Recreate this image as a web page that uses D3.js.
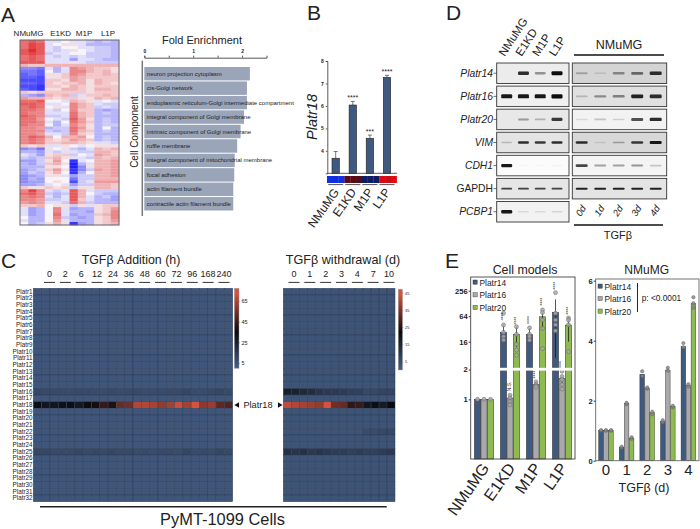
<!DOCTYPE html>
<html>
<head>
<meta charset="utf-8">
<script src="https://cdn.jsdelivr.net/npm/d3@7"></script>
<style>
  html, body { margin: 0; padding: 0; background: #fff; }
  text { font-family: 'Liberation Sans', Arial, sans-serif; fill: #222; }
</style>
</head>
<body>
<script>
// ---- panel A data (z-score x10, one line per row of the heatmap)
var heatGroups = ['NMuMG', 'E1KD', 'M1P', 'L1P'];
var heatRows = [
  [6,7,6,-1,-1,0,-1,-1,-2,-3,-2,-3],[6,8,7,-1,0,1,1,-1,-3,-3,-3,-3],[6,8,7,-1,-2,0,0,-1,-1,-2,-2,-3],
  [7,9,7,-1,-2,-1,1,0,-1,-2,-2,-3],[7,8,7,-2,-1,-1,0,0,-2,-2,-2,-3],[6,7,6,-1,-2,-1,-2,-1,-2,-2,-2,-3],
  [6,7,6,-1,-1,-1,-4,-1,-1,-2,-3,-3],[7,7,7,-1,-1,-1,1,-1,-2,-2,-2,-2],[3,2,2,3,3,3,3,3,3,3,3,3],
  [-5,-5,-6,-1,-3,-1,5,4,3,2,2,1],[-6,-6,-7,0,-3,-1,5,5,3,2,3,1],[-7,-6,-7,1,1,2,5,4,2,2,3,2],
  [-7,-7,-8,1,1,2,4,3,2,2,2,2],[-8,-8,-8,2,2,1,4,3,1,3,2,2],[-7,-7,-8,2,1,2,2,3,1,3,2,1],
  [-8,-8,-9,2,2,1,3,2,1,2,2,2],[-7,-8,-9,1,1,3,3,2,1,3,3,2],[2,1,2,2,2,2,2,2,1,2,2,2],
  [-3,-4,-5,3,2,3,-2,-1,2,2,3,2],[4,3,3,2,1,2,2,1,1,3,2,3],[6,6,7,0,0,-1,3,2,1,-1,0,-1],
  [7,7,6,-1,-1,0,5,3,2,-1,-2,-2],[6,7,6,0,1,-1,5,3,2,-2,-1,-2],[6,6,5,-1,-2,0,5,2,2,-3,-4,-3],
  [6,5,5,-1,-1,-1,6,3,2,-3,-2,-3],[7,6,5,-2,-2,-1,6,3,2,-3,-3,-3],[6,6,4,0,-1,-2,7,4,1,-3,-2,-3],
  [6,6,5,-1,-3,0,6,4,2,-3,-2,-3],[6,5,5,0,-3,-1,5,3,1,-3,-2,-2],[5,5,4,-3,-2,-2,6,4,1,-3,0,-3],
  [5,5,5,-2,-3,-2,6,3,2,-3,-2,-3],[5,5,4,-1,-1,-2,5,2,1,-3,-3,-3],[5,7,6,3,0,3,3,4,0,-3,-2,-3],
  [5,6,5,2,1,2,4,3,2,-3,-2,-3],[5,6,5,2,2,3,3,2,1,-1,-1,-2],[2,1,2,-1,-1,1,0,-1,0,1,1,1],
  [-5,-4,-6,1,0,1,-2,-3,-1,3,2,3],[-3,-3,-4,-1,-2,-1,-1,-2,-2,3,3,2],[-1,-2,-4,1,2,2,-2,0,-1,4,3,2],
  [-2,-3,-2,2,3,1,-1,-1,-2,3,2,3],[-4,-4,-2,1,4,0,-9,-1,0,3,3,4],[-3,-4,-2,2,3,1,-10,-3,-1,3,3,4],
  [-3,-3,-3,1,1,0,-10,-5,1,3,3,4],[-4,-3,-2,2,4,1,-9,-5,-2,4,3,4],[-4,-2,-3,1,3,0,-9,-3,0,3,3,4],
  [-5,-4,-3,1,1,-1,-4,-2,-2,3,3,4],[-5,-3,-4,0,0,0,-6,-2,-2,3,3,3],[-5,-4,-4,0,1,0,-8,-2,-1,4,4,4],
  [-4,-4,-3,-1,0,-1,-4,-2,-2,3,3,2],[2,1,1,2,1,2,-2,1,1,3,3,2],[5,8,5,-1,-2,-1,7,3,-1,-2,-2,-2],
  [6,7,5,-2,-3,-2,7,3,0,-2,-3,-3],[5,6,5,-1,-3,-1,7,3,-1,-3,-2,-4],[5,5,4,-2,-2,-1,7,2,-1,-3,-3,-4],
  [4,5,4,-1,-1,-2,6,3,-2,-3,-3,-3],[2,2,3,0,1,1,-2,1,-1,1,2,2],[-1,-4,-3,0,5,-1,-4,-3,-3,1,2,4],
  [-1,-4,-3,0,5,-1,-3,-3,-4,1,2,5],[-1,-4,-3,0,6,-1,-4,-3,-3,2,3,5],[0,-3,-3,0,5,-2,-3,-4,-3,1,2,5],
  [-1,-3,-3,0,4,-1,-3,-3,-3,1,2,4],[0,-3,-2,1,3,1,-9,-4,-3,1,2,3]
];

var enrichTerms = ['neuron projection cytoplasm', 'cis-Golgi network', 'endoplasmic reticulum-Golgi intermediate compartment',
  'integral component of Golgi membrane', 'intrinsic component of Golgi membrane', 'ruffle membrane',
  'integral component of mitochondrial membrane', 'focal adhesion', 'actin filament bundle', 'contractile actin filament bundle'];
var enrichValues = [2.16, 2.1, 2.1, 2.04, 1.97, 1.9, 1.85, 1.84, 1.82, 1.82];

// ---- panel B data
var cellLines = ['NMuMG', 'E1KD', 'M1P', 'L1P'];
var platr18Values = [3.67, 6.04, 4.56, 7.27];
var platr18Upper = [3.97, 6.2, 4.7, 7.36];
var platr18Stars = ['', '****', '***', '****'];
var platr18Strip = [-1.9, -1.8, -1.9, 0.5, 0.55, 0.45, -0.5, -0.55, -0.5, 1.9, 1.8, 2];

// ---- panel C data
var platrNames = d3.range(1, 33).map(function(n) { return 'Platr' + n; });
var additionHours = ['0', '2', '6', '12', '24', '36', '48', '60', '72', '96', '168', '240'];
var withdrawalDays = ['0', '1', '2', '3', '4', '7', '10'];
var additionBase = 4;
var withdrawalBase = 3;
var additionRows = {
  Platr16: [10,9,9,9,8,9,9,8,8,9,8,9,9,8,8,8,9,9,10,8,8,9,10,9],
  Platr18: [33,30,30,32,33,29,36,37,43,39,52,54,66,66,64,60,63,70,63,72,59,61,50,48],
  Platr25: [10,10,9,9,9,10,9,10,9,10,9,9,8,9,8,9,9,8,10,8,9,8,10,9]
};
var withdrawalRows = {
  Platr16: [17,16,14,13,11,10,10,9,8,8,6,6,7,7],
  Platr18: [42,40,39,38,37,44,33,32,26,27,19,21,18,22],
  Platr22: [3,3,3,3,3,3,3,3,3,3,5,5,6,6],
  Platr25: [12,11,12,10,11,10,9,9,8,9,8,8,9,10]
};

// ---- panel D data (band darkness per lane)
var blotGenes = ['Platr14', 'Platr16', 'Platr20', 'VIM', 'CDH1', 'GAPDH', 'PCBP1'];
var blotLanesRight = ['0d', '1d', '2d', '3d', '4d'];
var blotLeft = [[0,.85,.4,1],[.95,.95,.95,1],[0,.35,.25,.8],[.2,.85,.8,.85],[.95,.02,.02,.03],[.75,.75,.75,.75],[.95,.1,.1,.12]];
var blotRight = [[.25,.12,.4,.55,.85],[.2,.4,.45,.9,.85],[.1,.2,.15,.7,.85],[.85,.1,.3,.8,.95],[.75,.35,.35,.4,.2],[.9,.9,.9,.9,.9]];
var blotThick = [1, 1.05, 0.9, 0.6, 0.8, 0.3, 0.9];
var blotBackLeft = ['#ececec', '#f0f0f0', '#e8e8e8', '#e4e4e4', '#fbfbfb', '#e6e6e6', '#f2f2f2'];
var blotBackRight = ['#d4d4d4', '#e0e0e0', '#f2f2f2', '#d8d8d8', '#f4f4f4', '#e4e4e4'];

// ---- panel E data
var seriesNames = ['Platr14', 'Platr16', 'Platr20'];
var seriesColors = ['#3f5a80', '#a9a9ab', '#8dbb4f'];
var cellMeans = [[1, 26.7, 23.9, 79], [1, 1.03, 1.41, 1.62], [1, 24, 62, 39.5]];
var cellLow = [[1, 16, 18, 6.7], [1, 0.88, 1.31, 1.41], [1, 12, 30, 16]];
var cellHigh = [[1, 39.6, 34, 160], [1, 1.11, 1.52, 1.7], [1, 36, 85, 62]];
var cellDots = [
  [[1], [75, 39.6, 26.7, 21.2, 17.5], [34, 24, 21, 17.5], [230, 75, 52, 40, 29]],
  [[1], [1.1, 1.03, 0.95, 0.88], [1.5, 1.41, 1.36, 1.33], [1.92, 1.7, 1.58, 1.41, 1.27]],
  [[1], [36, 24, 13.9, 10.2, 7.7], [90, 78, 52, 33, 11], [58, 52, 40, 9.3]]
];
var cellStars = [
  [null, ['****', 64], ['****', 52], ['****', 335]],
  [null, ['N.S.', 1.35], ['****', 1.78], ['****', 4.5]],
  [null, ['****', 50], ['****', 140], ['****', 86]]
];
var cellTicksLow = [1, 2];
var cellTicksHigh = [16, 64, 256];

var tgfDays = ['0', '1', '2', '3', '4'];
var tgfMeans = [[1, 0.45, 2.88, 1.3, 3.8], [1, 1.9, 2.4, 3.02, 2.5], [1, 0.75, 1.6, 1.8, 5.25]];
var tgfDots = [
  [[1, 1.02], [0.43, 0.47], [2.82, 2.98], [1.28, 1.35], [3.78, 3.92]],
  [[1, 1.02], [1.88, 1.93], [2.4, 2.44], [3, 3.1], [2.47, 2.55]],
  [[1, 1.02], [0.73, 0.78], [1.55, 1.63], [1.78, 1.83], [5.1, 5.25, 5.45]]
];

var svg = d3.select('body').append('svg').attr('width', 700).attr('height', 529)
  .style('display', 'block');

var defs = svg.append('defs');
defs.append('filter').attr('id', 'soft').attr('x', '-20%').attr('y', '-80%')
  .attr('width', '140%').attr('height', '260%')
  .append('feGaussianBlur').attr('stdDeviation', 0.6);

function label(x, y, str, size, opts) {
  opts = opts || {};
  var t = svg.append('text').attr('x', x).attr('y', y).attr('font-size', size).text(str);
  if (opts.anchor) t.attr('text-anchor', opts.anchor);
  if (opts.italic) t.attr('font-style', 'italic');
  if (opts.bold) t.attr('font-weight', 'bold');
  if (opts.rotate !== undefined) {
    t.attr('transform', 'rotate(' + opts.rotate + ' ' + x + ' ' + y + ')');
  }
  return t;
}

// panel letters
[['A', 1, 22], ['B', 307, 20], ['C', 1, 268], ['D', 446, 19.5], ['E', 445, 268]].forEach(function(d) {
  label(d[1], d[2], d[0], 21);
});

// ****************** A: expression heatmap ***************************
var heatX = d3.scaleBand().domain(d3.range(12)).range([20, 119]);
var heatY = d3.scaleBand().domain(d3.range(heatRows.length)).range([40, 225]);
var heatColor = d3.scaleLinear().domain([-10, 0, 10]).range(['#2020ff', '#f6f4f8', '#e01818']);

heatRows.forEach(function(row, r) {
  svg.append('g').selectAll('rect').data(row).enter().append('rect')
    .attr('x', function(d, i) { return heatX(i); })
    .attr('y', heatY(r))
    .attr('width', heatX.bandwidth() + 0.3)
    .attr('height', heatY.bandwidth() + 0.3)
    .attr('fill', function(d) { return heatColor(d); });
});
svg.append('rect').attr('x', 20).attr('y', 40).attr('width', 99).attr('height', 185)
  .attr('fill', 'none').attr('stroke', '#666').attr('stroke-width', 1);

[28.5, 60.7, 84, 108].forEach(function(x, i) {
  label(x, 36, heatGroups[i], 8, { anchor: 'middle' });
});

// fold enrichment bars
var enrichX = d3.scaleLinear().domain([0, 2.5]).range([144.3, 266.5]);
var enrichY = d3.scaleBand().domain(enrichTerms).range([67, 210.5]).paddingInner(0.07);

svg.append('g').selectAll('rect').data(enrichValues).enter().append('rect')
  .attr('x', enrichX(0))
  .attr('y', function(d, i) { return enrichY(enrichTerms[i]); })
  .attr('width', function(d) { return enrichX(d) - enrichX(0); })
  .attr('height', enrichY.bandwidth())
  .attr('fill', '#9aa5b9');
svg.append('g').selectAll('text').data(enrichTerms).enter().append('text')
  .attr('x', enrichX(0) + 2.5)
  .attr('y', function(d) { return enrichY(d) + enrichY.bandwidth() / 2 + 2; })
  .attr('font-size', 6)
  .attr('fill', '#333')
  .text(function(d) { return d; });

var enrichAxis = svg.append('g').attr('transform', 'translate(0,57.7)')
  .call(d3.axisTop(enrichX).tickValues([0, 0.5, 1, 1.5, 2]).tickSize(2).tickFormat(function(d) {
    return d % 1 === 0 ? d : '';
  }));
enrichAxis.selectAll('text').attr('font-size', 5).attr('font-weight', 'bold').attr('dy', 0.5);
enrichAxis.selectAll('.domain, line').attr('stroke', '#555').attr('stroke-width', 1);

svg.append('line').attr('x1', 142.3).attr('x2', 142.3).attr('y1', 60.7).attr('y2', 216)
  .attr('stroke', '#777').attr('stroke-width', 1.5);
label(202, 44, 'Fold Enrichment', 11, { anchor: 'middle' });
label(138, 132, 'Cell Component', 10, { anchor: 'middle', rotate: -90 });

// ****************** B: Platr18 expression ***************************
var bX = d3.scalePoint().domain(cellLines).range([335.7, 387]);
var bY = d3.scaleLinear().domain([3, 8]).range([173.3, 61]);

svg.append('g').selectAll('line').data(platr18Upper).enter().append('line')
  .attr('x1', function(d, i) { return bX(cellLines[i]); })
  .attr('x2', function(d, i) { return bX(cellLines[i]); })
  .attr('y1', function(d) { return bY(d); })
  .attr('y2', function(d, i) { return bY(platr18Values[i]); })
  .attr('stroke', '#555').attr('stroke-width', 0.8);
svg.append('g').selectAll('line').data(platr18Upper).enter().append('line')
  .attr('x1', function(d, i) { return bX(cellLines[i]) - 2; })
  .attr('x2', function(d, i) { return bX(cellLines[i]) + 2; })
  .attr('y1', function(d) { return bY(d); })
  .attr('y2', function(d) { return bY(d); })
  .attr('stroke', '#555').attr('stroke-width', 0.8);
svg.append('g').selectAll('rect').data(platr18Values).enter().append('rect')
  .attr('x', function(d, i) { return bX(cellLines[i]) - 3.7; })
  .attr('y', function(d) { return bY(d); })
  .attr('width', 7.4)
  .attr('height', function(d) { return bY(3) - bY(d); })
  .attr('fill', '#3f5a80').attr('stroke', '#222').attr('stroke-width', 0.6);
svg.append('g').selectAll('text').data(platr18Stars).enter().append('text')
  .attr('x', function(d, i) { return bX(cellLines[i]); })
  .attr('y', function(d, i) { return bY(platr18Upper[i]) - 1; })
  .attr('text-anchor', 'middle').attr('font-size', 7).attr('fill', '#333')
  .text(function(d) { return d; });

var bAxis = svg.append('g').attr('transform', 'translate(327.3,0)')
  .call(d3.axisLeft(bY).tickValues([4, 5, 6, 7, 8]).tickSize(1.5).tickFormat(d3.format('d')));
bAxis.selectAll('text').attr('font-size', 5).attr('font-weight', 'bold').attr('dx', 1);
bAxis.selectAll('.domain, line').attr('stroke', '#333').attr('stroke-width', 0.8);
svg.append('line').attr('x1', 327.3).attr('x2', 397).attr('y1', bY(3)).attr('y2', bY(3))
  .attr('stroke', '#333').attr('stroke-width', 0.8);

var stripX = d3.scaleBand().domain(d3.range(12)).range([327, 396.7]);
var stripColor = d3.scaleLinear().domain([-2, -0.5, 0.5, 2]).range(['#1030f0', '#101a60', '#5a0a14', '#e00a14']);
svg.append('g').selectAll('rect').data(platr18Strip).enter().append('rect')
  .attr('x', function(d, i) { return stripX(i); })
  .attr('y', 176).attr('width', stripX.bandwidth() + 0.2).attr('height', 7)
  .attr('fill', function(d) { return stripColor(d); });
cellLines.forEach(function(c) {
  var x = bX(c);
  svg.append('line').attr('x1', x - 7.5).attr('x2', x + 7.5).attr('y1', 184.6).attr('y2', 184.6)
    .attr('stroke', '#555').attr('stroke-width', 1);
  label(x + 4, 192, c, 12, { anchor: 'end', rotate: -55 });
});
label(317, 117, 'Platr18', 14.5, { anchor: 'middle', italic: true, rotate: -90 });

// ****************** C: lncRNA heatmaps ***************************
function platrHeat(cfg) {
  var x = d3.scaleBand().domain(d3.range(cfg.labels.length * 2)).range(cfg.xRange);
  var y = d3.scaleBand().domain(platrNames).range([288.3, 501.7]);
  var color = d3.scaleLinear().domain(cfg.colorDomain).range(['#466088', '#0a0a0e', '#d4533f']).clamp(true);

  platrNames.forEach(function(name) {
    var row = cfg.rows[name] || x.domain().map(function() { return cfg.base; });
    svg.append('g').selectAll('rect').data(row).enter().append('rect')
      .attr('x', function(d, i) { return x(i); })
      .attr('y', y(name))
      .attr('width', x.bandwidth())
      .attr('height', y.bandwidth())
      .attr('fill', function(d) { return color(d); })
      .attr('stroke', '#2b3b56').attr('stroke-width', 0.45);
  });

  // column labels sit on their own slightly narrower spacing
  var tick = d3.scalePoint().domain(cfg.labels).range(cfg.tickRange);
  cfg.labels.forEach(function(l) {
    label(tick(l), 277, l, 9, { anchor: 'middle' });
    svg.append('line').attr('x1', tick(l) - 5.5).attr('x2', tick(l) + 5.5)
      .attr('y1', 282.4).attr('y2', 282.4).attr('stroke', '#333').attr('stroke-width', 1);
  });

  // colour bar
  var barY = d3.scaleLinear().domain(cfg.barDomain).range(cfg.barRange);
  var gradId = 'grad' + cfg.id;
  var grad = defs.append('linearGradient').attr('id', gradId)
    .attr('x1', 0).attr('x2', 0).attr('y1', 1).attr('y2', 0);
  cfg.colorDomain.forEach(function(v) {
    grad.append('stop').attr('offset', (v - cfg.barDomain[0]) / (cfg.barDomain[1] - cfg.barDomain[0]))
      .attr('stop-color', color(v));
  });
  svg.append('rect').attr('x', cfg.barX).attr('y', cfg.barRange[1])
    .attr('width', cfg.barWidth).attr('height', cfg.barRange[0] - cfg.barRange[1])
    .attr('fill', 'url(#' + gradId + ')').attr('stroke', '#999').attr('stroke-width', 0.4);
  var ax = svg.append('g').attr('transform', 'translate(' + (cfg.barX + cfg.barWidth) + ',0)')
    .call(d3.axisRight(barY).tickValues(cfg.barTicks).tickSize(1).tickPadding(1.5));
  ax.select('.domain').remove();
  ax.selectAll('line').attr('stroke', '#555').attr('stroke-width', 0.4);
  ax.selectAll('text').attr('font-size', cfg.barFont);

  return y;
}

var addY = platrHeat({
  id: 'Add', labels: additionHours, rows: additionRows, base: additionBase,
  xRange: [33.3, 232.7], tickRange: [49.5, 224], colorDomain: [0, 35, 72],
  barDomain: [0, 77], barRange: [368.3, 288.3], barX: 234.4, barWidth: 4.6,
  barTicks: [5, 25, 45, 65], barFont: 5.5
});
platrHeat({
  id: 'Wd', labels: withdrawalDays, rows: withdrawalRows, base: withdrawalBase,
  xRange: [283.3, 395], tickRange: [294, 389], colorDomain: [0, 22, 44],
  barDomain: [0, 47], barRange: [370, 289.3], barX: 398.3, barWidth: 4.2,
  barTicks: [5, 15, 25, 35, 45], barFont: 4
});

var rowAxis = svg.append('g').attr('transform', 'translate(33,0)')
  .call(d3.axisLeft(addY).tickSize(0).tickPadding(0.5));
rowAxis.select('.domain').remove();
rowAxis.selectAll('text').attr('font-size', 6.3).attr('fill', '#333');

label(131, 264, 'TGF\u03b2 Addition (h)', 12.4, { anchor: 'middle' });
label(343, 264, 'TGF\u03b2 withdrawal (d)', 12.6, { anchor: 'middle' });

var rowMid = addY('Platr18') + addY.bandwidth() / 2;
svg.append('path').attr('d', d3.symbol().type(d3.symbolTriangle).size(13))
  .attr('transform', 'translate(237.5,' + rowMid + ') rotate(-90)').attr('fill', '#111');
svg.append('path').attr('d', d3.symbol().type(d3.symbolTriangle).size(13))
  .attr('transform', 'translate(279.5,' + rowMid + ') rotate(90)').attr('fill', '#111');
label(258, rowMid + 3, 'Platr18', 9.2, { anchor: 'middle' });

svg.append('line').attr('x1', 40).attr('x2', 386.7).attr('y1', 506.7).attr('y2', 506.7)
  .attr('stroke', '#222').attr('stroke-width', 1.5);
label(222.5, 525, 'PyMT-1099 Cells', 16.4, { anchor: 'middle' });

// ****************** D: gels ***************************
var blotRows = d3.scaleBand().domain(blotGenes).range([63, 222]).paddingInner(0.11);
var laneLeft = d3.scalePoint().domain(cellLines).range([506.7, 557]);
var laneRight = d3.scalePoint().domain(blotLanesRight).range([581.7, 655.7]);

function gel(gene, x0, x1, back, values, lanes, laneX, bandW, thick) {
  var top = blotRows(gene), h = blotRows.bandwidth();
  svg.append('rect').attr('x', x0).attr('y', top).attr('width', x1 - x0).attr('height', h)
    .attr('fill', back).attr('stroke', '#333').attr('stroke-width', 0.9);
  svg.append('g').selectAll('rect').data(values).enter().append('rect')
    .attr('x', function(d, i) { return laneX(lanes[i]) - bandW / 2; })
    .attr('y', function(d) { return top + h / 2 - (0.6 + d * 1.4 * thick); })
    .attr('width', bandW)
    .attr('height', function(d) { return 1.2 + d * 2.8 * thick; })
    .attr('rx', 1.2)
    .attr('fill', '#0c0c0c')
    .attr('opacity', function(d) { return d; })
    .attr('filter', 'url(#soft)');
}

blotGenes.forEach(function(g, i) {
  gel(g, 496.7, 569, blotBackLeft[i], blotLeft[i], cellLines, laneLeft, 11, blotThick[i]);
  if (blotRight[i]) gel(g, 572.3, 666.7, blotBackRight[i], blotRight[i], blotLanesRight, laneRight, 12, blotThick[i]);
  var mid = blotRows(g) + blotRows.bandwidth() / 2;
  label(493, mid + 3.4, g, 10.3, { anchor: 'end', italic: g !== 'GAPDH' });
  svg.append('line').attr('x1', 493.5).attr('x2', 496.7).attr('y1', mid).attr('y2', mid)
    .attr('stroke', '#333').attr('stroke-width', 0.7);
});

cellLines.forEach(function(c) {
  label(laneLeft(c) - 2, 57, c, 11.5, { rotate: -57 });
});
blotLanesRight.forEach(function(l) {
  label(laneRight(l) - 1, 217, l, 9.5, { italic: true, rotate: -57 });
});
svg.append('line').attr('x1', 574).attr('x2', 664).attr('y1', 55).attr('y2', 55)
  .attr('stroke', '#111').attr('stroke-width', 1.3);
svg.append('line').attr('x1', 574).attr('x2', 663).attr('y1', 225).attr('y2', 225)
  .attr('stroke', '#111').attr('stroke-width', 1.3);
label(619, 49, 'NMuMG', 12.5, { anchor: 'middle' });
label(618, 238.5, 'TGF\u03b2', 11, { anchor: 'middle' });

// ****************** E: cell models ***************************
var cellX = d3.scaleBand().domain(cellLines).range([471, 575]).paddingInner(0.25).paddingOuter(0.125);
var cellSub = d3.scaleBand().domain(seriesNames).range([0, cellX.bandwidth()]);
var lowY = d3.scaleLog().base(2).domain([0.25, 2]).range([459, 369.5]);
var upY = d3.scaleLog().base(2).domain([16, 256]).range([341.7, 290.7]);
function cellY(v) { return v <= 2 ? lowY(v) : upY(v); }

seriesNames.forEach(function(s, si) {
  var cx = function(i) { return cellX(cellLines[i]) + cellSub(s) + cellSub.bandwidth() / 2; };
  var g = svg.append('g');
  g.selectAll('rect').data(cellMeans[si]).enter().append('rect')
    .attr('x', function(d, i) { return cx(i) - cellSub.bandwidth() / 2 + 0.2; })
    .attr('y', function(d) { return cellY(d); })
    .attr('width', cellSub.bandwidth() - 0.4)
    .attr('height', function(d) { return lowY(0.25) - cellY(d); })
    .attr('fill', seriesColors[si]).attr('stroke', '#222').attr('stroke-width', 0.5);
  g.selectAll('line.err').data(cellMeans[si]).enter().append('line')
    .attr('x1', function(d, i) { return cx(i); })
    .attr('x2', function(d, i) { return cx(i); })
    .attr('y1', function(d, i) { return cellY(cellLow[si][i]); })
    .attr('y2', function(d, i) { return cellY(cellHigh[si][i]); })
    .attr('stroke', '#111').attr('stroke-width', 0.7);
  cellDots[si].forEach(function(vals, i) {
    g.append('g').selectAll('circle').data(vals).enter().append('circle')
      .attr('cx', cx(i)).attr('cy', function(d) { return cellY(d); })
      .attr('r', 2).attr('fill', '#aaa').attr('fill-opacity', 0.85)
      .attr('stroke', '#666').attr('stroke-width', 0.5);
  });
  cellStars[si].forEach(function(st, i) {
    if (!st) return;
    label(cx(i) + 1.5, cellY(st[1]), st[0], 5, { anchor: 'middle', rotate: -90 }).attr('fill', '#666');
  });
});

// the axis break runs across all of the bars
svg.append('rect').attr('x', 471).attr('y', 367.8).attr('width', 104).attr('height', 2.8).attr('fill', '#fff');

svg.append('rect').attr('x', 470.7).attr('y', 277).attr('width', 104.3).attr('height', 182)
  .attr('fill', 'none').attr('stroke', '#444').attr('stroke-width', 0.9);

[[lowY, cellTicksLow], [upY, cellTicksHigh]].forEach(function(a) {
  var ax = svg.append('g').attr('transform', 'translate(470.7,0)')
    .call(d3.axisLeft(a[0]).tickValues(a[1]).tickSize(2).tickPadding(1).tickFormat(d3.format('d')));
  ax.select('.domain').remove();
  ax.selectAll('text').attr('font-size', 7.6).attr('font-weight', 'bold');
  ax.selectAll('line').attr('stroke', '#333');
});

seriesNames.forEach(function(s, i) {
  svg.append('rect').attr('x', 473).attr('y', 280 + i * 12.7).attr('width', 4.2).attr('height', 4.2)
    .attr('fill', seriesColors[i]).attr('stroke', '#333').attr('stroke-width', 0.4);
  label(479.5, 285.5 + i * 12.7, s, 8.4);
});
label(525, 274, 'Cell models', 12.4, { anchor: 'middle' });
cellLines.forEach(function(c) {
  label(cellX(c) + cellX.bandwidth() / 2 + 6, 468, c, 16, { anchor: 'end', rotate: -55 });
});

// ****************** E: NMuMG time course ***************************
var tgfX = d3.scaleBand().domain(tgfDays).range([595.7, 698.7]).paddingInner(0.27).paddingOuter(0.135);
var tgfSub = d3.scaleBand().domain(seriesNames).range([0, tgfX.bandwidth()]);
var tgfY = d3.scaleLinear().domain([0, 6]).range([460.7, 280.7]);

seriesNames.forEach(function(s, si) {
  var cx = function(i) { return tgfX(tgfDays[i]) + tgfSub(s) + tgfSub.bandwidth() / 2; };
  var g = svg.append('g');
  g.selectAll('rect').data(tgfMeans[si]).enter().append('rect')
    .attr('x', function(d, i) { return cx(i) - tgfSub.bandwidth() / 2 + 0.2; })
    .attr('y', function(d) { return tgfY(d); })
    .attr('width', tgfSub.bandwidth() - 0.4)
    .attr('height', function(d) { return tgfY(0) - tgfY(d); })
    .attr('fill', seriesColors[si]).attr('stroke', '#222').attr('stroke-width', 0.4);
  tgfDots[si].forEach(function(vals, i) {
    g.append('g').selectAll('circle').data(vals).enter().append('circle')
      .attr('cx', cx(i)).attr('cy', function(d) { return tgfY(d); })
      .attr('r', 1.7).attr('fill', '#8a8a8a').attr('fill-opacity', 0.85)
      .attr('stroke', '#555').attr('stroke-width', 0.4);
  });
});

svg.append('rect').attr('x', 595.7).attr('y', 279).attr('width', 103.3).attr('height', 181.7)
  .attr('fill', 'none').attr('stroke', '#666').attr('stroke-width', 0.9);

var tgfAxis = svg.append('g').attr('transform', 'translate(595.7,0)')
  .call(d3.axisLeft(tgfY).tickValues([0, 2, 4, 6]).tickSize(2).tickPadding(1).tickFormat(d3.format('d')));
tgfAxis.select('.domain').remove();
tgfAxis.selectAll('text').attr('font-size', 7.6).attr('font-weight', 'bold');
tgfAxis.selectAll('line').attr('stroke', '#333');

var tgfDayAxis = svg.append('g').attr('transform', 'translate(0,460.7)')
  .call(d3.axisBottom(tgfX).tickSize(0).tickPadding(4));
tgfDayAxis.select('.domain').remove();
tgfDayAxis.selectAll('text').attr('font-size', 15);

seriesNames.forEach(function(s, i) {
  svg.append('rect').attr('x', 598).attr('y', 284 + i * 12.5).attr('width', 4.2).attr('height', 4.2)
    .attr('fill', seriesColors[i]).attr('stroke', '#333').attr('stroke-width', 0.4);
  label(604.5, 289.5 + i * 12.5, s, 8.4);
});
svg.append('line').attr('x1', 637.5).attr('x2', 637.5).attr('y1', 283).attr('y2', 312)
  .attr('stroke', '#111').attr('stroke-width', 0.9);
label(641.7, 301, 'p: <0.0001', 8.3);
label(646.7, 274.3, 'NMuMG', 12, { anchor: 'middle' });
label(644, 492, 'TGF\u03b2 (d)', 12.5, { anchor: 'middle' });
</script>
</body>
</html>
